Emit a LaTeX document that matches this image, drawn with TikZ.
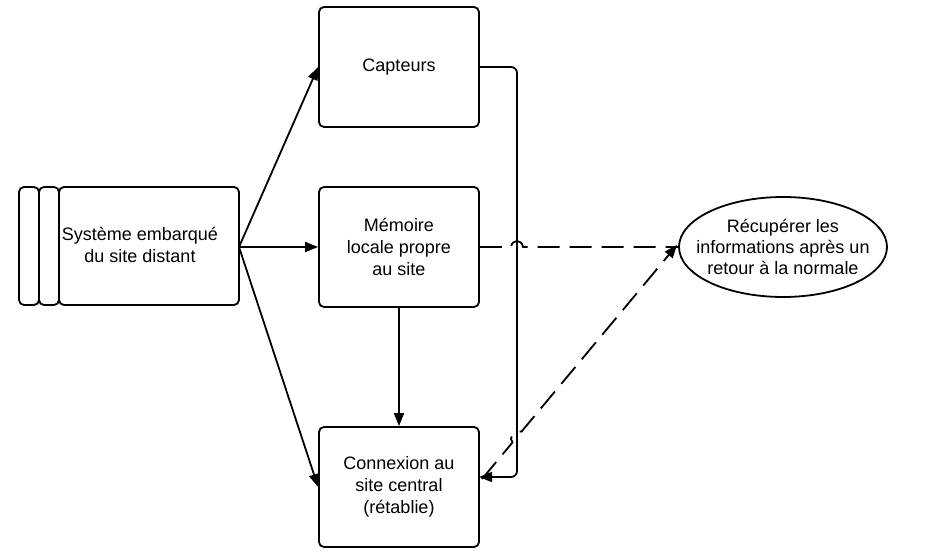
\documentclass[tikz,border=0pt]{standalone}
\usepackage{fontspec}
\setmainfont{Liberation Sans}
\usetikzlibrary{arrows.meta,shapes.geometric,calc}
\begin{document}
\begin{tikzpicture}[x=1pt,y=-1pt,
  line width=1.8pt,
  box/.style={draw,rounded corners=5pt,minimum width=160pt,minimum height=120pt,inner sep=0pt,align=center,font=\fontsize{18}{22}\selectfont},
  lbl/.style={align=center,font=\fontsize{18}{22}\selectfont},
  arr/.style={-{Triangle[length=13pt,width=10pt]}},
  dsh/.style={dash pattern=on 22pt off 10pt}]
\useasboundingbox (0,0) rectangle (927,553);
% left stacked node
\node[draw,rounded corners=5pt,minimum width=180pt,minimum height=118pt,inner sep=0pt] (sysm) at (149,246) {};
\node[draw,rounded corners=5pt,minimum width=20pt,minimum height=118pt,inner sep=0pt] (bar1) at (29,246) {};
\node[draw,rounded corners=5pt,minimum width=20pt,minimum height=118pt,inner sep=0pt] (bar2) at (49,246) {};
\node[lbl] (syst) at (140,245) {Système embarqué\\du site distant};
\coordinate (sysr) at (239,247);
% boxes
\node[box] (capt) at (399,67) {Capteurs};
\node[box] (mem) at (399,247) {Mémoire\\locale propre\\au site};
\node[box] (conn) at (399,487) {Connexion au\\site central\\(rétablie)};
\node[draw,ellipse,minimum width=208pt,minimum height=100pt,inner sep=0pt] (rec) at (783,247) {};
\node[align=center,font=\fontsize{18}{21}\selectfont] (rect) at (783,247) {Récupérer les\\informations après un\\retour à la normale};
% arrows from system
\draw[arr] (sysr) -- (capt.west);
\draw[arr] (sysr) -- (mem.west);
\draw[arr] (sysr) -- (conn.west);
\draw[arr] (mem.south) -- (conn.north);
% capteurs to connexion
\coordinate (cbend1) at (517,67);
\coordinate (cbend2) at (517,477);
\coordinate (cend) at (479,477);
\draw[arr,rounded corners=6pt] (capt.east) -- (cbend1) -- (cbend2) -- (cend);
% dashed horizontal with hop
\coordinate (h1) at (511,247);
\coordinate (h2) at (523,247);
\draw[dsh] (mem.east) -- (h1) .. controls (512,239) and (522,239) .. (h2) -- (rec.west);
% dashed diagonal with hop
\coordinate (dstart) at (482,479);
\coordinate (dend) at (677,245);
\coordinate (cx) at (517,437);
\draw[dsh,-{Triangle[length=13pt,width=10pt]}] (dstart) -- ($(cx)+(-4.5,5.4)$) .. controls ($(cx)+(-9,1)$) and ($(cx)+(-3,-7)$) .. ($(cx)+(4.5,-5.4)$) -- (dend);
\end{tikzpicture}
\end{document}
